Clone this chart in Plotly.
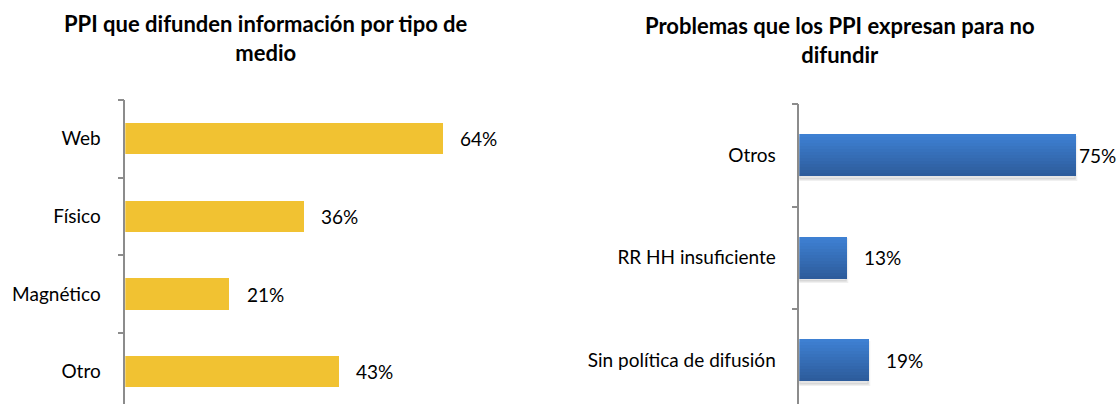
import plotly.graph_objects as go

# ---- data ----
left_title = "PPI que difunden información por tipo de<br>medio"
left_cats = ["Web", "Físico", "Magnético", "Otro"]
left_vals = [64, 36, 21, 43]

right_title = "Problemas que los PPI expresan para no<br>difundir"
right_cats = ["Otros", "RR HH insuficiente", "Sin política de difusión"]
right_vals = [75, 13, 19]

# ---- layout constants ----
W, H = 1118, 404
FONT = "Lato"
GOLD = "#F1C232"
AXIS_COL = "#8C8C8C"
LBL_SIZE = 19
TITLE_SIZE = 22

# left panel geometry (pixels)
L_x0, L_x1, L_pxpct = 125.3, 520.0, 4.97
L_top, L_band = 100.0, 77.6
# right panel geometry
R_x0, R_x1, R_pxpct = 799.3, 1112.0, 3.69
R_top, R_band = 104.0, 102.5

fig = go.Figure()

# left bars
fig.add_trace(go.Bar(
    x=left_vals, y=left_cats, orientation="h",
    marker=dict(color=GOLD, line=dict(width=0)),
    width=0.4, xaxis="x", yaxis="y", showlegend=False, hoverinfo="skip",
))

# right bars: shadow + vertical gradient bands
def lerp(c1, c2, t):
    return "#%02x%02x%02x" % tuple(int(round(a + (b - a) * t)) for a, b in zip(c1, c2))

top_c = (0x3E, 0x80, 0xD2)
bot_c = (0x2D, 0x5C, 0x9C)
bw = 0.41
fig.add_trace(go.Bar(
    x=right_vals, y=right_cats, orientation="h",
    marker=dict(color="rgba(0,0,0,0.10)", line=dict(width=3, color="rgba(0,0,0,0.06)")),
    width=bw, offset=-bw / 2 + 0.035, xaxis="x2", yaxis="y2", showlegend=False, hoverinfo="skip",
))
N = 14
for i in range(N):
    fig.add_trace(go.Bar(
        x=right_vals, y=right_cats, orientation="h",
        marker=dict(color=lerp(top_c, bot_c, i / (N - 1)), line=dict(width=0)),
        width=bw / N + 0.002, offset=-bw / 2 + i * bw / N,
        xaxis="x2", yaxis="y2", showlegend=False, hoverinfo="skip",
    ))

annotations = []
for c, v in zip(left_cats, left_vals):
    annotations.append(dict(x=v, y=c, xref="x", yref="y", text=f"{v}%", showarrow=False,
                            xanchor="left", yanchor="middle", xshift=15,
                            font=dict(family=FONT, size=LBL_SIZE, color="#000")))
r_shift = [1, 15, 15]
for c, v, s in zip(right_cats, right_vals, r_shift):
    annotations.append(dict(x=v, y=c, xref="x2", yref="y2", text=f"{v}%", showarrow=False,
                            xanchor="left", yanchor="middle", xshift=s,
                            font=dict(family=FONT, size=LBL_SIZE, color="#000")))

annotations.append(dict(x=266 / W, y=1 - 38 / H, xref="paper", yref="paper", text=f"<b>{left_title}</b>",
                        showarrow=False, xanchor="center", yanchor="middle", align="center",
                        font=dict(family=FONT, size=TITLE_SIZE, color="#000")))
annotations.append(dict(x=840 / W, y=1 - 40 / H, xref="paper", yref="paper", text=f"<b>{right_title}</b>",
                        showarrow=False, xanchor="center", yanchor="middle", align="center",
                        font=dict(family=FONT, size=TITLE_SIZE, color="#000")))

yax = dict(type="category", showline=True, linecolor=AXIS_COL, linewidth=1.5,
           ticks="outside", tickson="boundaries", ticklen=6, tickcolor=AXIS_COL, tickwidth=1.5,
           showgrid=False, zeroline=False,
           tickfont=dict(family=FONT, size=LBL_SIZE, color="#000"))
xax = dict(visible=False, showgrid=False, zeroline=False)

fig.update_layout(
    width=W, height=H, margin=dict(l=0, r=0, t=0, b=0),
    paper_bgcolor="white", plot_bgcolor="white",
    barmode="overlay", bargap=0,
    xaxis=dict(xax, domain=[L_x0 / W, L_x1 / W], range=[0, (L_x1 - L_x0) / L_pxpct]),
    yaxis=dict(yax, domain=[0, 1 - L_top / H], range=[-0.5 + (H - L_top) / L_band, -0.5],
               categoryorder="array", categoryarray=left_cats, ticklabelstandoff=19),
    xaxis2=dict(xax, domain=[R_x0 / W, R_x1 / W], range=[0, (R_x1 - R_x0) / R_pxpct]),
    yaxis2=dict(yax, domain=[0, 1 - R_top / H], range=[-0.5 + (H - R_top) / R_band, -0.5],
                categoryorder="array", categoryarray=right_cats, anchor="x2", ticklabelstandoff=18),
    annotations=annotations,
)

fig.write_html("out.html", config={"displayModeBar": False},
               post_script="document.body.style.margin='0';document.body.style.overflow='hidden';")
